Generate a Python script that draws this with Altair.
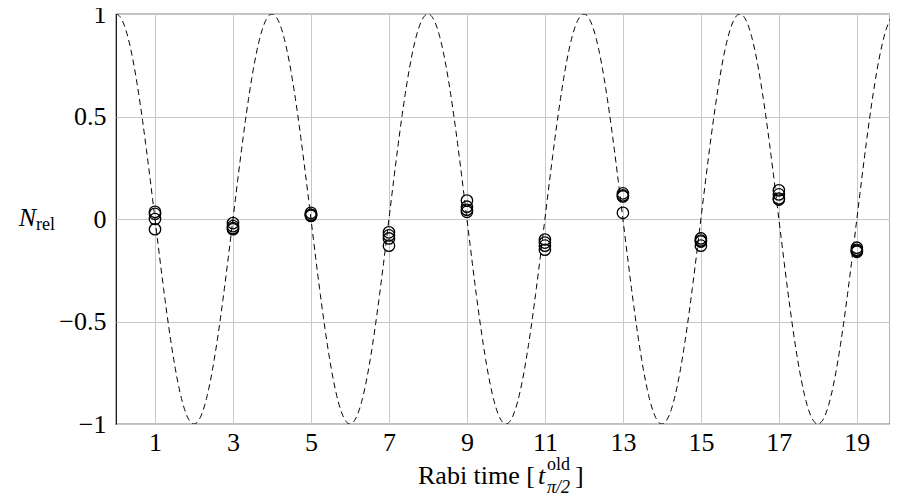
import altair as alt
import pandas as pd

# Measured relative populations at each odd Rabi time (4 repeats)
rabi_times = [1, 3, 5, 7, 9, 11, 13, 15, 17, 19]
n_rel = [
    [0.035, 0.025, 0.0, -0.05],
    [-0.02, -0.035, -0.045, -0.05],
    [0.03, 0.02, 0.02, 0.015],
    [-0.065, -0.08, -0.095, -0.13],
    [0.09, 0.06, 0.045, 0.035],
    [-0.1, -0.115, -0.13, -0.15],
    [0.125, 0.115, 0.11, 0.03],
    [-0.095, -0.105, -0.11, -0.13],
    [0.14, 0.12, 0.1, 0.095],
    [-0.14, -0.15, -0.155, -0.16],
]
x_ticks = [1, 3, 5, 7, 9, 11, 13, 15, 17, 19]
y_ticks = [-1, -0.5, 0, 0.5, 1]
x_max = 19.85
model_period = 4.0  # cosine model, period of 4 t_old

rows = []
for t, vals in zip(rabi_times, n_rel):
    for v in vals:
        rows.append({"t": t, "n": v})
pts = pd.DataFrame(rows)

FONT = "Liberation Serif"
xscale = alt.Scale(domain=[0, x_max], nice=False, zero=False)
yscale = alt.Scale(domain=[-1, 1], nice=False)

xaxis = alt.Axis(values=x_ticks, title=None, grid=True, gridColor="#c8c8c8",
                 tickSize=0, labelFont=FONT, labelFontSize=26, labelColor="black",
                 labelPadding=5, domain=False)
yaxis = alt.Axis(values=y_ticks, title=None, grid=True, gridColor="#c8c8c8",
                 tickSize=0, labelFont=FONT, labelFontSize=26, labelColor="black",
                 labelPadding=10, format="~g", domain=False)

model = alt.Chart(alt.sequence(0, x_max + 0.01, 0.02, as_="t")).transform_calculate(
    n=f"cos(2*PI*datum.t/{model_period})"
).mark_line(color="black", strokeWidth=1, strokeDash=[6, 4], clip=True).encode(
    x=alt.X("t:Q", scale=xscale, axis=xaxis),
    y=alt.Y("n:Q", scale=yscale, axis=yaxis),
)

points = alt.Chart(pts).mark_point(shape="circle", filled=False, color="black",
                                   size=130, strokeWidth=1.3, opacity=1).encode(
    x=alt.X("t:Q", scale=xscale),
    y=alt.Y("n:Q", scale=yscale),
)

def label(text, x, y, size, align="left", style="normal"):
    return alt.Chart(pd.DataFrame({"s": [text]})).mark_text(
        font=FONT, fontSize=size, align=align, baseline="middle",
        fontStyle=style, color="black"
    ).encode(x=alt.value(x), y=alt.value(y), text="s:N")

X1 = 419  # right end of "Rabi time ["
titles = [
    label("N", -80, 204, 26, align="right", style="italic"),
    label("rel", -80, 211, 18, align="left"),
    label("Rabi time [", X1, 462, 26, align="right"),
    label("t", X1 + 3, 462, 26, align="left", style="italic"),
    label("old", X1 + 12, 451, 18, align="left"),
    label("π/2", X1 + 12, 474, 18, align="left", style="italic"),
    label("]", X1 + 40, 462, 26, align="left"),
]

chart = alt.layer(
    model, points, *titles
).properties(
    width=774, height=410,
    autosize=alt.AutoSizeParams(type="none"),
    padding={"left": 108, "top": 6, "right": 0, "bottom": 70},
).configure_view(stroke="black", strokeWidth=1.2)

chart.save("out.html", embed_options={"renderer": "svg", "actions": False})
